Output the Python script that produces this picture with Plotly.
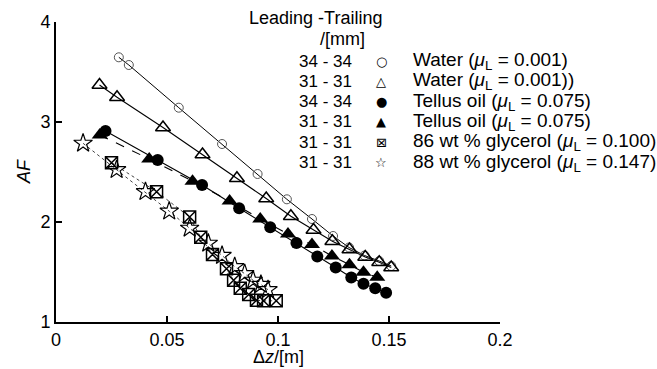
import plotly.graph_objects as go

# ---------------- data ----------------
water34_x = [0.0283, 0.0328, 0.0553, 0.0748, 0.0908, 0.104, 0.1153, 0.1248, 0.132, 0.139, 0.1456, 0.151]
water34_y = [3.647, 3.57, 3.143, 2.78, 2.48, 2.227, 2.03, 1.86, 1.745, 1.665, 1.61, 1.56]

water31_x = [0.0196, 0.0275, 0.0482, 0.066, 0.0815, 0.0947, 0.1058, 0.116, 0.1245, 0.1322, 0.1393, 0.1456, 0.151]
water31_y = [3.37, 3.247, 2.945, 2.675, 2.437, 2.235, 2.058, 1.92, 1.808, 1.725, 1.65, 1.597, 1.545]

tellus34_x = [0.0223, 0.0458, 0.0658, 0.0825, 0.0965, 0.1083, 0.1177, 0.126, 0.133, 0.1385, 0.1438, 0.1487]
tellus34_y = [2.91, 2.62, 2.37, 2.137, 1.947, 1.79, 1.655, 1.545, 1.445, 1.383, 1.337, 1.293]

tellus31_x = [0.0197, 0.042, 0.0615, 0.0782, 0.092, 0.1045, 0.1153, 0.1243, 0.1322, 0.1385, 0.1447]
tellus31_y = [2.87, 2.63, 2.408, 2.21, 2.03, 1.88, 1.775, 1.66, 1.573, 1.498, 1.447]

gly86_x = [0.025, 0.0453, 0.0602, 0.0652, 0.0705, 0.0768, 0.08, 0.083, 0.0868, 0.0903, 0.0935, 0.0992]
gly86_y = [2.593, 2.303, 2.05, 1.847, 1.675, 1.532, 1.417, 1.337, 1.275, 1.217, 1.212, 1.212]

gly88_x = [0.0122, 0.0273, 0.0403, 0.051, 0.0602, 0.0686, 0.0748, 0.0805, 0.085, 0.0888, 0.0923, 0.0955]
gly88_y = [2.787, 2.523, 2.303, 2.108, 1.937, 1.787, 1.665, 1.553, 1.483, 1.417, 1.375, 1.323]

x_ticks = [0, 0.05, 0.1, 0.15, 0.2]
x_tick_labels = ["0", "0.05", "0.1", "0.15", "0.2"]
y_ticks = [1, 2, 3, 4]
y_tick_labels = ["1", "2", "3", "4"]

legend_title = ["Leading -Trailing", "/[mm]"]
legend_pairs = ["34 - 34", "31 - 31", "34 - 34", "31 - 31", "31 - 31", "31 - 31"]
legend_symbols = ["○", "△", "●", "▲", "⊠", "☆"]
legend_labels = [
    "Water (<i>μ</i><sub>L</sub> = 0.001)",
    "Water (<i>μ</i><sub>L</sub> = 0.001))",
    "Tellus oil (<i>μ</i><sub>L</sub> = 0.075)",
    "Tellus oil (<i>μ</i><sub>L</sub> = 0.075)",
    "86 wt % glycerol (<i>μ</i><sub>L</sub> = 0.100)",
    "88 wt % glycerol (<i>μ</i><sub>L</sub> = 0.147)",
]

# ---------------- figure ----------------
W, H = 657, 369
ML, MR, MT, MB = 56, 157, 22, 47
PW, PH = W - ML - MR, H - MT - MB
FONT = "Liberation Sans, Arial, Helvetica, sans-serif"

def px(xpix):
    return (xpix - ML) / PW

def py(ypix):
    return (H - MB - ypix) / PH

fig = go.Figure()

series = [
    (water34_x, water34_y, dict(symbol="circle-open", size=9, color="#555", line=dict(width=1, color="#555")),
     dict(color="black", width=1, dash="solid")),
    (water31_x, water31_y, dict(symbol="triangle-up-open", size=13, color="black", line=dict(width=1.5, color="black")),
     dict(color="black", width=1.1, dash="solid")),
    (tellus34_x, tellus34_y, dict(symbol="circle", size=12, color="black"),
     dict(color="black", width=1.1, dash="solid")),
    (tellus31_x, tellus31_y, dict(symbol="triangle-up", size=14, color="black"),
     dict(color="black", width=1.1, dash="dash")),
    (gly86_x, gly86_y, dict(symbol="square-x-open", size=12, color="black", line=dict(width=1.5, color="black")),
     dict(color="#444", width=1, dash="dot")),
    (gly88_x, gly88_y, dict(symbol="star-open", size=14, color="black", line=dict(width=1.2, color="black")),
     dict(color="#444", width=1, dash="dot")),
]

for xs, ys, mk, ln in series:
    fig.add_trace(go.Scatter(x=xs, y=ys, mode="lines", line=ln, showlegend=False, hoverinfo="skip"))
for xs, ys, mk, ln in series:
    fig.add_trace(go.Scatter(x=xs, y=ys, mode="markers", marker=mk, showlegend=False))

annotations = []
# legend header
annotations.append(dict(x=px(384), y=py(18), xref="paper", yref="paper", text=legend_title[0],
                        xanchor="right", yanchor="middle", showarrow=False,
                        font=dict(family=FONT, size=18, color="black")))
annotations.append(dict(x=px(318), y=py(39), xref="paper", yref="paper", text=legend_title[1],
                        xanchor="left", yanchor="middle", showarrow=False,
                        font=dict(family=FONT, size=18, color="black")))
for i, (pair, sym, lab) in enumerate(zip(legend_pairs, legend_symbols, legend_labels)):
    yrow = 61 + 20.3 * i
    annotations.append(dict(x=px(297), y=py(yrow), xref="paper", yref="paper", text=pair,
                            xanchor="left", yanchor="middle", showarrow=False,
                            font=dict(family=FONT, size=17, color="black")))
    annotations.append(dict(x=px(381), y=py(yrow), xref="paper", yref="paper", text=sym,
                            xanchor="center", yanchor="middle", showarrow=False,
                            font=dict(family="DejaVu Sans", size=13, color="black")))
    annotations.append(dict(x=px(411), y=py(yrow), xref="paper", yref="paper", text=lab,
                            xanchor="left", yanchor="middle", showarrow=False,
                            font=dict(family=FONT, size=19, color="black")))

# axis titles
annotations.append(dict(x=px(278), y=py(357), xref="paper", yref="paper", text="Δ<i>z</i>/[m]",
                        xanchor="center", yanchor="middle", showarrow=False,
                        font=dict(family=FONT, size=18, color="black")))
annotations.append(dict(x=px(24), y=py(172), xref="paper", yref="paper", text="<i>AF</i>",
                        xanchor="center", yanchor="middle", showarrow=False, textangle=-90,
                        font=dict(family=FONT, size=18, color="black")))

fig.update_layout(
    width=W, height=H,
    margin=dict(l=ML, r=MR, t=MT, b=MB, pad=0),
    paper_bgcolor="white", plot_bgcolor="white",
    showlegend=False,
    font=dict(family=FONT, size=18, color="black"),
    annotations=annotations,
)
fig.update_xaxes(range=[0, 0.2], tickvals=x_ticks, ticktext=x_tick_labels,
                 ticks="inside", ticklen=6, tickwidth=1.5, tickcolor="black",
                 showline=True, linewidth=2, linecolor="black", showgrid=False, zeroline=False,
                 tickfont=dict(family=FONT, size=18))
fig.update_yaxes(range=[1, 4], tickvals=y_ticks, ticktext=y_tick_labels,
                 ticks="inside", ticklen=6, tickwidth=1.5, tickcolor="black",
                 showline=True, linewidth=2, linecolor="black", showgrid=False, zeroline=False,
                 tickfont=dict(family=FONT, size=18))

fig.write_html("out.html")
